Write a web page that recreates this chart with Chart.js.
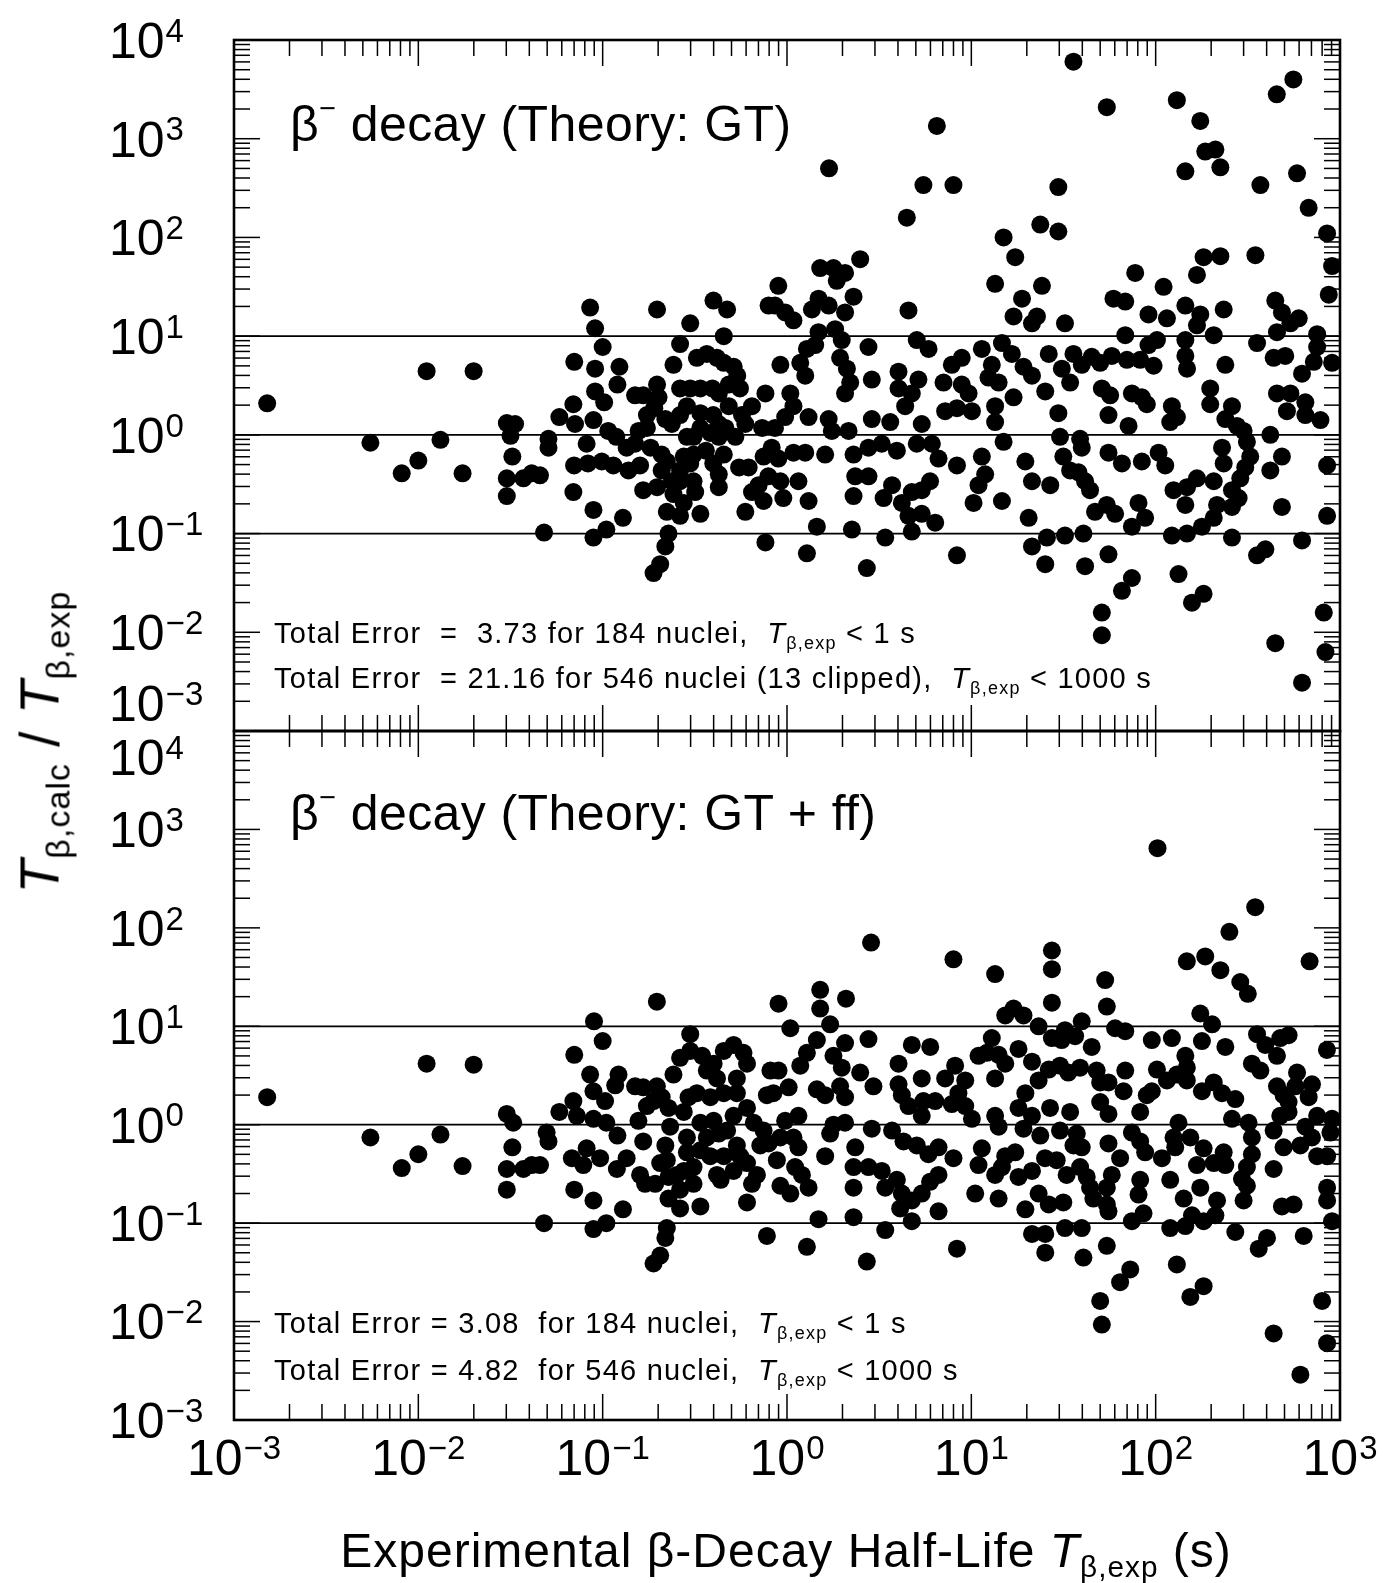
<!DOCTYPE html>
<html>
<head>
<meta charset="utf-8">
<script src="https://cdn.jsdelivr.net/npm/chart.js@4.4.1/dist/chart.umd.min.js"></script>
<style>
  html, body { margin: 0; padding: 0; background: #fff; }
  #wrap { position: relative; width: 1384px; height: 1583px; overflow: hidden;
          font-family: "Liberation Sans", Arial, Helvetica, sans-serif; color: #000; }
  canvas { position: absolute; left: 0; top: 0; }
  .t { position: absolute; white-space: pre; line-height: 1; }
  .sub { font-size: 0.62em; position: relative; top: 0.32em; }
  .sup { font-size: 0.58em; position: relative; top: -0.8em; }
  .big { font-size: 50px; letter-spacing: 0.4px; }
  .err { font-size: 29px; letter-spacing: 1.25px; }
</style>
</head>
<body>
<div id="wrap">
  <canvas id="gtChart" width="1384" height="1583"></canvas>
  <canvas id="ffChart" width="1384" height="1583"></canvas>

  <div class="t big" style="left:290px; top:99px;">β<span class="sup">−</span> decay (Theory: GT)</div>
  <div class="t err" style="left:274px; top:619px;">Total Error  =  3.73 for 184 nuclei,  <i>T</i><span class="sub">β,exp</span> &lt; 1 s</div>
  <div class="t err" style="left:274px; top:664px;">Total Error  = 21.16 for 546 nuclei (13 clipped),  <i>T</i><span class="sub">β,exp</span> &lt; 1000 s</div>

  <div class="t big" style="left:290px; top:788px;">β<span class="sup">−</span> decay (Theory: GT + ff)</div>
  <div class="t err" style="left:274px; top:1309px;">Total Error = 3.08  for 184 nuclei,  <i>T</i><span class="sub">β,exp</span> &lt; 1 s</div>
  <div class="t err" style="left:274px; top:1356px;">Total Error = 4.82  for 546 nuclei,  <i>T</i><span class="sub">β,exp</span> &lt; 1000 s</div>

  <div class="t" style="left:786px; top:1527px; font-size:48px; letter-spacing:1px; transform:translateX(-50%);">Experimental β-Decay Half-Life <i>T</i><span class="sub">β,exp</span> (s)</div>
  <div class="t" style="left:40px; top:742px; font-size:55px; letter-spacing:1px; transform:translate(-50%,-50%) rotate(-90deg);"><i>T</i><span class="sub">β,calc</span> / <i>T</i><span class="sub">β,exp</span></div>
</div>

<script>
// ---- axis settings ----
const xExpRange = [-3, 3];      // 10^-3 s ... 10^3 s
const yExpRange = [-3, 4];      // ratio 10^-3 ... 10^4
const refRatios = [0.1, 1, 10]; // horizontal guide lines

// ---- data: [log10 T_exp (s), log10 (T_calc / T_exp)] ----
const gtPoints = [
[-2.82,0.32],[-2.26,-0.08],[-2.09,-0.39],[-2.0,-0.26],[-1.955,0.645],[-1.88,-0.05],[-1.76,-0.39],[-1.70,0.645],
[-1.068,1.29],[-1.041,1.08],[-1.0,0.89],[-1.154,0.74],[-1.041,0.67],[-0.909,0.69],[-1.041,0.44],[-0.92,0.51],[-0.992,0.33],[-1.159,0.31],[-1.235,0.18],[-1.15,0.11],[-1.05,0.15],[-1.52,0.12],[-1.475,0.11],[-1.50,-0.01],[-1.294,-0.04],[-1.294,-0.13],[-1.087,-0.09],[-0.97,0.04],[-0.926,-0.02],[-0.87,-0.13],[-1.49,-0.22],[-1.52,-0.44],[-1.43,-0.44],[-1.385,-0.39],[-1.34,-0.41],[-1.52,-0.62],[-1.155,-0.31],[-1.08,-0.29],[-1.005,-0.27],[-0.942,-0.31],[-0.86,-0.36],[-1.159,-0.58],[-1.05,-0.76],[-0.89,-0.84],[-0.98,-0.96],[-1.05,-1.04],[-1.318,-0.99],
[-0.824,0.40],[-0.78,0.40],[-0.705,0.51],[-0.697,0.38],[-0.76,0.20],[-0.72,0.27],[-0.805,0.04],[-0.76,0.07],[-0.824,-0.09],[-0.74,-0.13],[-0.797,-0.31],[-0.78,-0.56],[-0.705,-0.53],[-0.68,-0.20],[-0.68,-0.36],[-0.652,-0.27],[-0.625,0.11],[-0.66,0.16],[-0.616,0.71],[-0.58,0.92],[-0.525,1.13],[-0.705,1.27],[-0.652,-0.78],[-0.643,-1.0],[-0.66,-1.13],[-0.724,-1.40],[-0.688,-1.31],[-0.58,0.47],[-0.525,0.47],[-0.543,0.29],[-0.58,0.20],[-0.543,-0.02],[-0.56,-0.22],[-0.525,-0.29],[-0.58,-0.47],[-0.507,-0.47],[-0.616,-0.60],[-0.56,-0.69],[-0.498,-0.58],[-0.58,-0.82],[-0.47,-0.80],
[-0.489,0.78],[-0.435,0.82],[-0.399,1.36],[-0.325,1.27],[-0.343,1.0],[-0.38,0.78],[-0.343,0.73],[-0.289,0.69],[-0.27,0.60],[-0.47,0.47],[-0.405,0.47],[-0.37,0.42],[-0.316,0.51],[-0.255,0.47],[-0.117,0.42],[-0.10,1.31],[-0.47,0.22],[-0.40,0.20],[-0.37,0.11],[-0.316,0.29],[-0.244,0.20],[-0.226,0.11],[-0.19,0.29],[-0.135,0.07],[-0.37,-0.02],[-0.44,-0.16],[-0.40,-0.29],[-0.37,-0.40],[-0.37,-0.53],[-0.343,-0.20],[-0.26,-0.33],[-0.208,-0.33],[-0.226,-0.78],[-0.19,-0.58],[-0.154,-0.51],[-0.127,-0.22],[-0.117,-1.09],[-0.127,-0.67],[-0.507,-0.02],[-0.47,0.07],[-0.416,0.02],[-0.334,0.07],[-0.28,-0.02],[-0.507,-0.2],[-0.58,-0.36],[-0.625,-0.47],
[0.813,3.13],[0.228,2.70],[0.740,2.53],[0.903,2.53],[0.650,2.20],[0.397,1.78],[0.18,1.69],[0.252,1.69],[0.315,1.64],[0.27,1.56],[-0.047,1.51],[-0.065,1.31],[-0.01,1.24],[0.035,1.16],[0.171,1.38],[0.226,1.31],[0.135,1.27],[0.361,1.40],[0.315,1.24],[0.261,1.07],[0.297,0.96],[0.171,1.04],[0.153,0.91],[0.659,1.26],[0.442,0.89],[0.108,0.87],[0.072,0.73],[0.099,0.60],[-0.036,0.71],[0.288,0.78],[0.325,0.67],[0.343,0.53],[0.315,0.42],[0.460,0.56],[0.018,0.42],[0.035,0.29],[-0.01,0.18],[-0.065,0.07],[0.226,0.16],[0.243,0.04],[0.334,0.04],[0.117,0.18],[-0.083,-0.13],[-0.047,-0.24],[0.035,-0.18],[0.099,-0.18],[-0.101,-0.42],[-0.036,-0.47],[-0.02,-0.64],[0.062,-0.47],[0.117,-0.67],[0.207,-0.20],[0.361,-0.20],[0.442,-0.13],[0.514,-0.09],[0.596,-0.16],[0.37,-0.42],[0.361,-0.62],[0.442,-0.42],[0.524,-0.64],[0.57,-0.51],[0.623,-0.69],[0.677,-0.58],[0.731,-0.56],[0.776,-0.47],[0.659,-0.82],[0.731,-0.80],[0.804,-0.89],[0.677,-0.98],[0.533,-1.04],[0.352,-0.96],[0.162,-0.93],[0.108,-1.20],[0.433,-1.35],[0.922,-1.22],
[0.46,0.16],[0.56,0.13],[0.605,0.64],[0.605,0.47],[0.641,0.29],[0.704,0.96],[0.768,0.87],[0.713,0.56],[0.677,0.42],[0.731,0.11],[0.704,-0.09],[0.786,-0.09],[0.822,-0.24],[0.922,-0.31],[0.849,0.53],[0.858,0.24],[0.894,0.71],[0.948,0.78],[0.948,0.51],[0.985,0.42],[0.922,0.27],[1.003,0.24],[1.057,0.87],[1.111,0.71],[1.148,0.53],[1.093,0.58],[1.129,0.29],[1.129,0.13],[1.175,-0.07],[1.057,-0.22],[1.075,-0.40],[1.039,-0.51],[1.012,-0.69],[1.166,-0.67],[1.129,1.53],[1.175,2.0],[1.238,1.8],[1.275,1.38],[1.229,1.2],[1.329,1.13],[1.356,1.2],[1.374,2.13],[1.383,1.51],[1.166,0.93],[1.22,0.82],[1.283,0.69],[1.329,0.60],[1.229,0.38],[1.42,0.82],[1.401,0.44],[1.293,-0.27],[1.329,-0.47],[1.311,-0.84],[1.329,-1.13],[1.41,-1.04],[1.401,-1.31],[1.428,-0.51],
[1.554,3.78],[1.735,3.32],[2.115,3.39],[2.242,3.18],[2.657,3.45],[2.747,3.60],[2.269,2.87],[2.324,2.89],[2.351,2.71],[2.161,2.67],[1.472,2.51],[2.568,2.53],[2.767,2.65],[2.83,2.30],[2.93,2.04],[2.957,1.71],[2.939,1.42],[1.472,2.06],[2.26,1.80],[2.351,1.81],[2.541,1.82],[2.224,1.62],[1.889,1.64],[2.043,1.50],[1.771,1.38],[1.835,1.35],[1.961,1.22],[2.061,1.18],[2.161,1.31],[2.242,1.22],[2.369,1.27],[2.649,1.36],[2.685,1.24],[2.776,1.18],[2.224,1.11],[2.315,1.01],[2.161,0.96],[1.508,1.13],[1.835,1.01],[1.961,0.91],[2.007,0.96],[2.55,0.93],[2.658,1.04],[2.731,1.13],[2.876,1.02],[2.876,0.89],[2.858,0.74],[2.957,0.73],[2.794,0.62],[2.703,0.80],[2.64,0.78],
[1.554,0.82],[1.491,0.67],[1.536,0.53],[1.599,0.71],[1.653,0.79],[1.699,0.73],[1.762,0.80],[1.844,0.76],[1.916,0.76],[1.989,0.70],[2.161,0.80],[2.17,0.67],[2.378,0.71],[1.708,0.47],[1.753,0.40],[1.744,0.20],[1.871,0.42],[1.925,0.38],[1.952,0.31],[2.088,0.29],[2.079,0.13],[2.115,0.18],[2.296,0.47],[2.296,0.31],[2.414,0.29],[2.378,0.16],[2.441,0.09],[2.477,0.04],[2.495,-0.07],[1.853,0.09],[2.658,0.42],[2.731,0.42],[2.712,0.24],[2.812,0.33],[2.812,0.20],[2.894,0.15],[2.622,0.0],[1.472,0.22],[1.481,-0.02],[1.59,-0.04],[1.599,-0.13],[1.499,-0.22],[1.536,-0.36],[1.581,-0.38],[1.617,-0.47],[1.644,-0.56],[1.671,-0.78],[1.735,-0.71],[1.78,-0.80],[1.744,-0.18],[1.817,-0.29],[1.925,-0.27],[2.016,-0.18],[2.052,-0.31],[1.907,-0.69],[1.943,-0.84],[1.871,-0.93],[2.097,-0.56],[2.17,-0.53],[2.224,-0.44],[2.161,-0.71],[2.315,-0.47],[2.36,-0.13],[2.369,-0.29],[2.333,-0.71],[2.315,-0.84],[2.251,-0.93],[2.088,-1.02],[2.17,-1.0],[2.414,-0.73],[2.45,-0.64],[2.459,-0.44],[2.486,-0.33],[2.513,-0.22],[2.414,-0.56],[2.414,-1.04],[2.55,-1.22],[2.595,-1.16],[2.685,-0.22],[2.622,-0.36],[2.685,-0.73],[2.794,-1.07],[2.93,-0.31],[2.93,-0.82],[1.508,-1.02],[1.608,-1.0],[1.617,-1.33],[1.744,-1.21],[1.817,-1.58],[1.871,-1.45],[1.708,-1.80],[1.708,-2.03],[2.124,-1.41],[2.197,-1.70],[2.26,-1.61],[2.649,-2.11],[2.794,-2.51],[2.912,-1.80],[2.921,-2.20]
];

const ffPoints = [
[-2.82,0.28],[-2.26,-0.13],[-2.09,-0.44],[-2.0,-0.30],[-1.955,0.62],[-1.88,-0.10],[-1.76,-0.42],[-1.70,0.61],
[-0.706,1.25],[-1.047,1.05],[-1.0,0.85],[-1.154,0.71],[-1.068,0.51],[-0.914,0.51],[-0.932,0.40],[-1.05,0.34],[-0.987,0.24],[-1.159,0.24],[-1.235,0.13],[-1.14,0.09],[-1.05,0.06],[-0.98,0.02],[-1.52,0.11],[-1.485,0.02],[-1.304,-0.08],[-1.294,-0.17],[-1.49,-0.23],[-0.92,-0.11],[-1.167,-0.34],[-1.087,-0.24],[-1.105,-0.41],[-1.014,-0.34],[-0.923,-0.45],[-0.87,-0.34],[-1.52,-0.45],[-1.43,-0.45],[-1.385,-0.41],[-1.34,-0.41],[-1.52,-0.66],[-1.154,-0.66],[-1.05,-0.77],[-0.89,-0.86],[-0.98,-1.0],[-1.05,-1.06],[-1.318,-1.0],
[-0.824,0.39],[-0.78,0.38],[-0.706,0.39],[-0.806,0.04],[-0.76,0.19],[-0.724,0.24],[-0.68,0.28],[-0.78,-0.17],[-0.797,-0.51],[-0.77,-0.60],[-0.688,-0.39],[-0.66,-0.21],[-0.643,-0.53],[-0.715,-0.60],[-0.643,-0.75],[-0.616,0.51],[-0.643,0.17],[-0.634,-0.02],[-0.58,0.68],[-0.525,0.75],[-0.525,0.92],[-0.652,-1.05],[-0.66,-1.15],[-0.688,-1.33],[-0.724,-1.41],[-0.58,-0.85],[-0.47,-0.83],[-0.58,-0.66],[-0.507,-0.60],[-0.56,-0.47],[-0.543,-0.28],[-0.507,-0.43],[-0.543,-0.13],[-0.47,-0.26],[-0.56,0.13],[-0.534,0.28],[-0.489,0.32],
[-0.46,0.70],[-0.435,0.55],[-0.398,0.62],[-0.343,0.75],[-0.29,0.81],[-0.236,0.73],[-0.217,0.62],[-0.272,0.47],[-0.38,0.47],[-0.416,0.28],[-0.343,0.32],[-0.272,0.32],[-0.217,0.17],[-0.29,0.09],[-0.398,0.04],[-0.47,0.02],[-0.37,-0.09],[-0.18,0.02],[-0.127,-0.06],[-0.272,-0.21],[-0.343,-0.32],[-0.416,-0.32],[-0.38,-0.51],[-0.36,-0.56],[-0.254,-0.32],[-0.217,-0.39],[-0.163,-0.51],[-0.19,-0.60],[-0.217,-0.79],[-0.109,-1.13],[-0.109,0.30],[-0.09,0.55],[-0.145,-0.21],[-0.652,-0.36],[-0.598,-0.51],[-0.435,-0.13],[-0.325,-0.06],[-0.29,-0.47],
[0.456,1.85],[0.903,1.68],[1.129,1.53],[-0.046,1.23],[0.18,1.37],[0.18,1.18],[0.32,1.28],[0.018,0.98],[0.234,1.02],[0.162,0.86],[0.442,0.87],[0.315,0.83],[0.108,0.73],[0.252,0.70],[0.072,0.60],[-0.046,0.55],[0.297,0.58],[0.397,0.53],[0.162,0.36],[0.207,0.30],[0.288,0.39],[0.469,0.39],[0.315,0.28],[-0.074,0.32],[0.009,0.38],[0.062,0.09],[-0.01,0.04],[-0.036,-0.13],[-0.1,-0.19],[0.035,-0.13],[0.062,-0.23],[-0.055,-0.36],[0.044,-0.43],[-0.036,-0.62],[0.018,-0.70],[0.117,-0.64],[0.081,-0.51],[0.252,0.0],[0.234,-0.09],[0.315,0.02],[0.207,-0.32],[0.37,-0.23],[0.46,-0.04],[0.57,-0.06],[0.632,-0.17],[0.704,-0.21],[0.767,-0.30],[0.822,-0.23],[0.361,-0.43],[0.442,-0.43],[0.514,-0.47],[0.533,-0.64],[0.596,-0.56],[0.623,-0.70],[0.614,-0.85],[0.677,-0.77],[0.731,-0.70],[0.776,-0.58],[0.822,-0.51],[0.822,-0.88],[0.677,-0.98],[0.361,-0.64],[0.361,-0.94],[0.171,-0.96],[0.108,-1.24],[0.533,-1.07],[0.433,-1.39],[0.922,-1.26],[0.903,-0.34],
[0.605,0.62],[0.677,0.81],[0.777,0.79],[0.731,0.47],[0.605,0.41],[0.623,0.30],[0.659,0.19],[0.731,0.09],[0.74,0.24],[0.804,0.24],[0.858,0.47],[0.912,0.60],[0.93,0.32],[0.894,0.21],[0.967,0.19],[1.003,0.06],[0.967,0.45],[1.039,0.70],[1.084,0.73],[1.148,0.71],[1.184,0.62],[1.129,0.47],[1.256,0.77],[1.329,0.64],[1.365,0.45],[1.42,0.56],[1.293,0.32],[1.256,0.17],[1.129,0.09],[1.148,-0.02],[1.329,0.09],[1.283,-0.04],[1.374,-0.11],[1.057,-0.24],[1.184,-0.32],[1.238,-0.28],[1.039,-0.41],[1.129,-0.51],[1.166,-0.43],[1.256,-0.53],[1.329,-0.47],[1.021,-0.70],[1.148,-0.75],[1.365,-0.70],[1.42,-0.81],[1.293,-0.86],[1.329,-1.11],[1.401,-1.11],[1.401,-1.30],[1.184,1.11],[1.229,1.18],[1.283,1.11],[1.365,1.00],[1.437,1.77],[1.437,1.58],[1.437,1.24],[1.437,0.88],[1.111,0.88],[1.40,-0.34],
[2.01,2.81],[2.54,2.21],[2.40,1.96],[2.169,1.66],[2.269,1.71],[2.351,1.57],[2.459,1.45],[2.5,1.33],[2.835,1.66],[1.726,1.47],[1.735,1.20],[1.599,1.05],[1.78,0.98],[1.835,0.95],[2.242,1.13],[2.306,1.02],[1.508,0.96],[1.49,0.86],[1.563,0.90],[1.653,0.79],[1.979,0.86],[2.088,0.88],[2.251,0.85],[2.378,0.79],[2.55,0.92],[2.595,0.81],[2.676,0.88],[2.721,0.91],[2.929,0.76],[2.658,0.70],[2.522,0.62],[2.568,0.55],
[1.481,0.60],[1.526,0.53],[1.59,0.58],[1.68,0.55],[1.699,0.43],[1.744,0.43],[1.835,0.55],[1.826,0.34],[1.699,0.23],[1.744,0.11],[1.916,0.13],[1.952,0.30],[1.979,0.34],[2.007,0.56],[2.061,0.45],[2.115,0.51],[2.161,0.70],[2.169,0.58],[2.169,0.45],[2.251,0.34],[2.315,0.43],[2.36,0.32],[2.432,0.26],[2.658,0.39],[2.694,0.30],[2.767,0.53],[2.758,0.39],[2.848,0.41],[2.83,0.28],[2.721,0.23],[2.721,0.13],[2.676,0.09],[2.876,0.09],[2.957,0.06],[2.948,-0.08],[2.64,-0.06],[2.812,-0.02],[2.848,-0.13],[2.414,0.06],[2.504,0.02],[2.522,-0.13],[2.124,0.02],[2.097,-0.13],[2.188,-0.13],[2.106,-0.23],[2.26,-0.24],[2.369,-0.28],[2.315,-0.39],[2.224,-0.41],[2.378,-0.41],[2.522,-0.30],[2.495,-0.43],[2.468,-0.55],[2.495,-0.62],[2.477,-0.77],[2.64,-0.45],[2.694,-0.23],[2.785,-0.21],[2.876,-0.32],[2.93,-0.32],[2.93,-0.64],[2.93,-0.77],[2.957,-0.98],[2.685,-0.83],[2.748,-0.81],[2.803,-1.13],[2.604,-1.15],[2.559,-1.26],[2.432,-1.09],
[1.871,-0.08],[1.916,-0.17],[1.943,-0.28],[2.034,-0.34],[1.744,-0.19],[1.807,-0.34],[1.762,-0.51],[1.735,-0.64],[1.662,-0.75],[1.735,-0.81],[1.744,-0.88],[1.916,-0.56],[1.907,-0.71],[1.934,-0.90],[1.871,-0.98],[2.079,-0.56],[2.152,-0.75],[2.242,-0.64],[2.197,-0.92],[2.26,-0.98],[2.333,-0.77],[2.324,-0.92],[2.079,-1.05],[2.161,-1.03],[1.427,0.17],[1.536,0.13],[1.481,-0.06],[1.572,-0.09],[1.554,-0.21],[1.599,-0.23],[1.463,-0.36],[1.517,-0.51],[1.59,-0.43],[1.626,-0.53],[1.644,-0.64],[1.499,-0.79],[1.508,-1.05],[1.599,-1.05],[1.608,-1.35],[1.735,-1.23],[1.807,-1.60],[1.862,-1.47],[1.699,-1.79],[1.708,-2.03],[2.115,-1.42],[2.188,-1.75],[2.26,-1.64],[2.64,-2.12],[2.785,-2.54],[2.903,-1.79],[2.93,-2.22]
];

// ---- layout (page pixels) ----
const FRAME_LEFT = 234, FRAME_RIGHT = 1340, PAGE_W = 1384, PAGE_H = 1583;
const FONT = '"Liberation Sans", Arial, Helvetica, sans-serif';
const BASE_PX = 50, SUP_PX = 33;

function toData(pairs) {
  return pairs.map(p => ({ x: Math.pow(10, p[0]), y: Math.pow(10, p[1]) }));
}

function drawPow(ctx, exp, x, yCenter, align) {
  const base = '10';
  const sup = exp < 0 ? '\u2212' + (-exp) : String(exp);
  ctx.font = BASE_PX + 'px ' + FONT;
  const wb = ctx.measureText(base).width;
  ctx.font = SUP_PX + 'px ' + FONT;
  const ws = ctx.measureText(sup).width;
  const gap = 1;
  const total = wb + gap + ws;
  const x0 = align === 'center' ? x - total / 2 : x;
  const baseline = yCenter + 0.716 * BASE_PX / 2;
  ctx.textAlign = 'left';
  ctx.textBaseline = 'alphabetic';
  ctx.fillStyle = '#000';
  ctx.font = BASE_PX + 'px ' + FONT;
  ctx.fillText(base, x0, baseline);
  ctx.font = SUP_PX + 'px ' + FONT;
  ctx.fillText(sup, x0 + wb + gap, baseline - 0.716 * BASE_PX + 0.716 * SUP_PX - 4);
}

const framePlugin = {
  id: 'logFrame',
  beforeDatasetsDraw(chart, args, opts) {
    const ctx = chart.ctx, xs = chart.scales.x, ys = chart.scales.y, a = chart.chartArea;
    const line = (x1, y1, x2, y2) => { ctx.beginPath(); ctx.moveTo(x1, y1); ctx.lineTo(x2, y2); ctx.stroke(); };
    ctx.save();
    ctx.strokeStyle = '#000';
    ctx.lineCap = 'butt';
    ctx.lineWidth = 1.8;
    refRatios.forEach(v => { const y = ys.getPixelForValue(v); line(a.left, y, a.right, y); });
    ctx.lineWidth = 1.5;
    for (let d = yExpRange[0]; d <= yExpRange[1]; d++) {
      for (let k = 1; k <= 9; k++) {
        if (d === yExpRange[1] && k > 1) break;
        const y = ys.getPixelForValue(k * Math.pow(10, d));
        const len = k === 1 ? 26 : 16;
        line(a.left, y, a.left + len, y);
        line(a.right - len, y, a.right, y);
      }
    }
    for (let d = xExpRange[0]; d <= xExpRange[1]; d++) {
      for (let k = 1; k <= 9; k++) {
        if (d === xExpRange[1] && k > 1) break;
        const x = xs.getPixelForValue(k * Math.pow(10, d));
        const len = k === 1 ? 26 : 16;
        line(x, a.bottom, x, a.bottom - len);
        line(x, a.top, x, a.top + len);
      }
    }
    ctx.lineWidth = 2.6;
    ctx.strokeRect(a.left, a.top, a.right - a.left, a.bottom - a.top);
    ctx.restore();
  },
  afterDraw(chart, args, opts) {
    const ctx = chart.ctx, xs = chart.scales.x, ys = chart.scales.y;
    ctx.save();
    for (let d = yExpRange[0]; d <= yExpRange[1]; d++) {
      const shift = (opts.yShift && opts.yShift[d]) || 0;
      drawPow(ctx, d, 109, ys.getPixelForValue(Math.pow(10, d)) + shift, 'left');
    }
    if (opts.xLabels) {
      for (let d = xExpRange[0]; d <= xExpRange[1]; d++) {
        drawPow(ctx, d, xs.getPixelForValue(Math.pow(10, d)), opts.xLabelY, 'center');
      }
    }
    ctx.restore();
  }
};

function makeChart(id, pts, top, bottom, frameOpts) {
  return new Chart(document.getElementById(id), {
    type: 'scatter',
    data: { datasets: [{ data: toData(pts), backgroundColor: '#000', borderWidth: 0,
                         pointRadius: 9, pointHoverRadius: 9, clip: false }] },
    options: {
      responsive: false, animation: false, events: [], devicePixelRatio: 1,
      layout: { padding: { left: FRAME_LEFT, right: PAGE_W - FRAME_RIGHT, top: top, bottom: PAGE_H - bottom } },
      scales: {
        x: { type: 'logarithmic', min: Math.pow(10, xExpRange[0]), max: Math.pow(10, xExpRange[1]), display: false },
        y: { type: 'logarithmic', min: Math.pow(10, yExpRange[0]), max: Math.pow(10, yExpRange[1]), display: false }
      },
      plugins: { legend: { display: false }, tooltip: { enabled: false }, logFrame: frameOpts }
    },
    plugins: [framePlugin]
  });
}

makeChart('gtChart', gtPoints, 40, 731, { yShift: { '-3': -28 }, xLabels: false });
makeChart('ffChart', ffPoints, 731, 1420, { yShift: { '4': 26 }, xLabels: true, xLabelY: 1457 });
</script>
</body>
</html>
